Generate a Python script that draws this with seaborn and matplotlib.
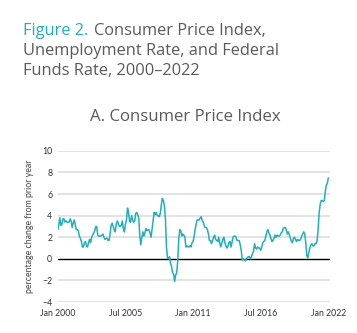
import numpy as np
import pandas as pd
import matplotlib
matplotlib.use("Agg")
import matplotlib.pyplot as plt
import matplotlib.dates as mdates
import seaborn as sns

# Monthly CPI, % change from prior year, Jan 2000 - Jan 2022
cpi_2000 = [2.7, 3.2, 3.8, 3.1, 3.2, 3.7, 3.7, 3.4, 3.5, 3.4, 3.4, 3.4]
cpi_2001 = [3.7, 3.5, 2.9, 3.3, 3.6, 3.2, 2.7, 2.7, 2.6, 2.1, 1.9, 1.6]
cpi_2002 = [1.1, 1.1, 1.5, 1.6, 1.2, 1.1, 1.5, 1.8, 1.5, 2.0, 2.2, 2.4]
cpi_2003 = [2.6, 3.0, 3.0, 2.2, 2.1, 2.1, 2.1, 2.2, 2.3, 2.0, 1.8, 1.9]
cpi_2004 = [1.9, 1.7, 1.7, 2.3, 3.1, 3.3, 3.0, 2.7, 2.5, 3.2, 3.5, 3.3]
cpi_2005 = [3.0, 3.0, 3.1, 3.5, 2.8, 2.5, 3.2, 3.6, 4.7, 4.3, 3.5, 3.4]
cpi_2006 = [4.0, 3.6, 3.4, 3.5, 4.2, 4.3, 4.1, 3.8, 2.1, 1.3, 2.0, 2.5]
cpi_2007 = [2.1, 2.4, 2.8, 2.6, 2.7, 2.7, 2.4, 2.0, 2.8, 3.5, 4.3, 4.1]
cpi_2008 = [4.3, 4.0, 4.0, 3.9, 4.2, 5.0, 5.6, 5.4, 4.9, 3.7, 1.1, 0.1]
cpi_2009 = [0.0, 0.2, -0.4, -0.7, -1.3, -1.4, -2.1, -1.5, -1.3, -0.2, 1.8, 2.7]
cpi_2010 = [2.6, 2.1, 2.3, 2.2, 2.0, 1.1, 1.2, 1.1, 1.1, 1.2, 1.1, 1.5]
cpi_2011 = [1.6, 2.1, 2.7, 3.2, 3.6, 3.6, 3.6, 3.8, 3.9, 3.5, 3.4, 3.0]
cpi_2012 = [2.9, 2.9, 2.7, 2.3, 1.7, 1.7, 1.4, 1.7, 2.0, 2.2, 1.8, 1.7]
cpi_2013 = [1.6, 2.0, 1.5, 1.1, 1.4, 1.8, 2.0, 1.5, 1.2, 1.0, 1.2, 1.5]
cpi_2014 = [1.6, 1.1, 1.5, 2.0, 2.1, 2.1, 2.0, 1.7, 1.7, 1.7, 1.3, 0.8]
cpi_2015 = [-0.1, 0.0, -0.1, -0.2, 0.0, 0.1, 0.2, 0.2, 0.0, 0.2, 0.5, 0.7]
cpi_2016 = [1.4, 1.0, 0.9, 1.1, 1.0, 1.0, 0.8, 1.1, 1.5, 1.6, 1.7, 2.1]
cpi_2017 = [2.5, 2.7, 2.4, 2.2, 1.9, 1.6, 1.7, 1.9, 2.2, 2.0, 2.2, 2.1]
cpi_2018 = [2.1, 2.2, 2.4, 2.5, 2.8, 2.9, 2.9, 2.7, 2.3, 2.5, 2.2, 1.9]
cpi_2019 = [1.6, 1.5, 1.9, 2.0, 1.8, 1.6, 1.8, 1.7, 1.7, 1.8, 2.1, 2.3]
cpi_2020 = [2.5, 2.3, 1.5, 0.3, 0.1, 0.6, 1.0, 1.3, 1.4, 1.2, 1.2, 1.4]
cpi_2021 = [1.4, 1.7, 2.6, 4.2, 5.0, 5.4, 5.4, 5.3, 5.4, 6.2, 6.8, 7.0]
cpi_2022 = [7.5]

y_ticks = [-4, -2, 0, 2, 4, 6, 8, 10]
x_tick_dates = ["2000-01-01", "2005-07-01", "2011-01-01", "2016-07-01", "2022-01-01"]
x_tick_labels = ["Jan 2000", "Jul 2005", "Jan 2011", "Jul 2016", "Jan 2022"]

values = (cpi_2000 + cpi_2001 + cpi_2002 + cpi_2003 + cpi_2004 + cpi_2005 +
          cpi_2006 + cpi_2007 + cpi_2008 + cpi_2009 + cpi_2010 + cpi_2011 +
          cpi_2012 + cpi_2013 + cpi_2014 + cpi_2015 + cpi_2016 + cpi_2017 +
          cpi_2018 + cpi_2019 + cpi_2020 + cpi_2021 + cpi_2022)
dates = pd.date_range("2000-01-01", periods=len(values), freq="MS")
df = pd.DataFrame({"date": dates, "cpi": values})

sns.set_theme(style="white")
plt.rcParams["font.family"] = ["Lato", "DejaVu Sans"]

teal = "#1fb0bb"
gray_text = "#5a5a5a"
title_font = ["Open Sans", "DejaVu Sans"]

fig = plt.figure(figsize=(3.57, 3.33), dpi=100)
ax = fig.add_axes([0.162, 0.093, 0.762, 0.454])

for yt in y_ticks:
    if yt != 0:
        ax.axhline(yt, color="#e0e0e0", lw=1.3, zorder=0)
ax.axhline(0, color="black", lw=1.0, zorder=1)

sns.lineplot(data=df, x="date", y="cpi", ax=ax, color=teal, lw=1.1, zorder=3)

ax.set_ylim(-4, 10)
ax.set_xlim(pd.Timestamp("2000-01-01"), pd.Timestamp("2022-02-15"))
ax.set_yticks(y_ticks)
ax.set_yticklabels([("\u2212" + str(abs(v))) if v < 0 else str(v) for v in y_ticks])
ax.set_xticks([pd.Timestamp(d) for d in x_tick_dates])
ax.set_xticklabels(x_tick_labels)
ax.tick_params(axis="both", length=0, labelsize=6.3, colors="#333333", pad=4)
ax.tick_params(axis="x", pad=5)
for s in ax.spines.values():
    s.set_visible(False)
ax.set_xlabel("")
ax.set_ylabel("percentage change from prior year", fontsize=6.3, color="#444444", labelpad=6)

# Title: fit line width to target
W, H = 357, 333
renderer = fig.canvas.get_renderer()
probe = fig.text(0, 0, "Unemployment Rate, and Federal", fontsize=10, family=title_font)
pw = probe.get_window_extent(renderer).width
probe.remove()
fs = 10 * 256.0 / pw

x0 = 23.0 / W
t1 = fig.text(x0, 1 - 35.0 / H, "Figure 2.", color=teal, fontsize=fs, va="baseline", ha="left", family=title_font)
w1 = t1.get_window_extent(renderer).width
fig.text(x0 + (w1 + 6) / W, 1 - 35.0 / H, "Consumer Price Index,", color=gray_text, fontsize=fs,
         va="baseline", ha="left", family=title_font)
fig.text(x0, 1 - 55.0 / H, "Unemployment Rate, and Federal", color=gray_text, fontsize=fs,
         va="baseline", ha="left", family=title_font)
fig.text(x0, 1 - 75.0 / H, "Funds Rate, 2000\u20132022", color=gray_text, fontsize=fs,
         va="baseline", ha="left", family=title_font)
fig.text(185.0 / W, 1 - 121.0 / H, "A. Consumer Price Index", color=gray_text, fontsize=fs * 1.02,
         va="baseline", ha="center", family=title_font)

fig.savefig("out.png", dpi=100)
